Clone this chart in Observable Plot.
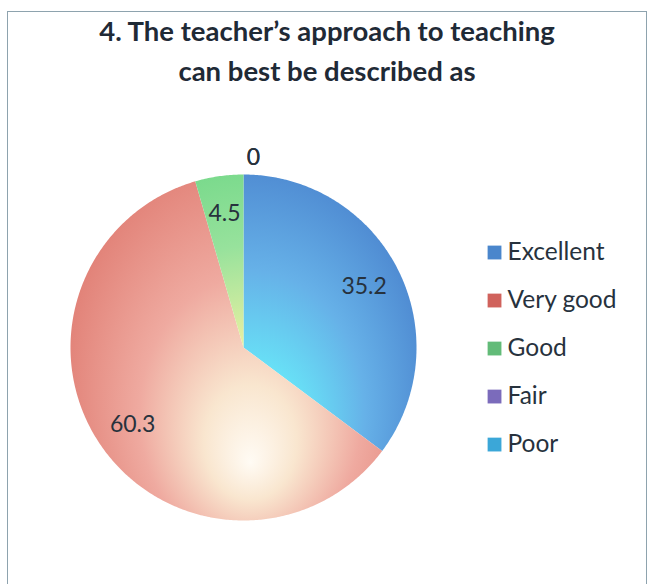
<!DOCTYPE html>
<html>
<head>
<meta charset="utf-8">
<script src="https://cdn.jsdelivr.net/npm/d3@7"></script>
<script src="https://cdn.jsdelivr.net/npm/@observablehq/plot@0.6"></script>
<style>
  html, body { margin: 0; padding: 0; background: #fff; width: 653px; height: 584px; overflow: hidden; }
  #frame { position: absolute; left: 7px; top: 11px; width: 640px; height: 600px; border: 1.5px solid #8ea3ae; box-sizing: border-box; }
  #title { position: absolute; left: 7px; width: 640px; top: 11px; text-align: center; font-family: Lato, "Open Sans", sans-serif; font-weight: 700; font-size: 27.5px; line-height: 40px; color: #1f2a36; }
  #chart { position: absolute; left: 0; top: 0; }
</style>
</head>
<body>
<div id="frame"></div>
<div id="chart"></div>
<div id="title">4. The teacher’s approach to teaching<br>can best be described as</div>
<script>
const categories = ["Excellent", "Very good", "Good", "Fair", "Poor"];
const values = [35.2, 60.3, 4.5, 0, 0];
const legendColors = ["#4a86cc", "#d0625c", "#62bb78", "#7b6bbb", "#3ba7d8"];
const gradientStops = [
  [["0", "#b4fbff"], ["0.3", "#68e3f7"], ["0.62", "#66b1e8"], ["1", "#4c86cf"]],
  [["0", "#fffbf4"], ["0.25", "#f9e6cf"], ["0.6", "#efaaa0"], ["1", "#e28379"]],
  [["0", "#fbf8b4"], ["0.35", "#f0f1a2"], ["0.7", "#97e29c"], ["1", "#74d889"]],
  [["0", "#e0dcf5"], ["1", "#8064a2"]],
  [["0", "#d6f3ff"], ["1", "#4bacc6"]]
];

const data = categories.map((c, i) => ({category: c, value: values[i], index: i}));
const arcs = d3.pie().sort(null).value(d => d.value)(data);

// polygon outline of each slice in unit-circle coordinates (angle clockwise from 12 o'clock)
const slices = arcs.filter(a => a.endAngle > a.startAngle).map(a => {
  const n = Math.max(2, Math.ceil((a.endAngle - a.startAngle) / 0.01));
  const pts = [{x: 0, y: 0}];
  for (let k = 0; k <= n; ++k) {
    const t = a.startAngle + (a.endAngle - a.startAngle) * k / n;
    pts.push({x: Math.sin(t), y: Math.cos(t)});
  }
  return {index: a.data.index, pts};
});

const labels = arcs.map(a => {
  const mid = (a.startAngle + a.endAngle) / 2;
  const rr = a.data.value > 0 ? 0.78 : 1.1;
  return {x: rr * Math.sin(mid), y: rr * Math.cos(mid), text: String(a.data.value), zero: a.data.value === 0};
});

const legend = data.map((d, i) => ({x: 1.451, y: 0.549 - i * 0.2775, category: d.category, color: legendColors[i]}));

const plot = Plot.plot({
  width: 653,
  height: 584,
  marginLeft: 70,
  marginRight: 237,
  marginTop: 174,
  marginBottom: 64,
  x: {domain: [-1, 1], axis: null},
  y: {domain: [-1, 1], axis: null},
  style: {background: "transparent", overflow: "visible"},
  marks: [
    ...slices.map(s => Plot.line(s.pts, {x: "x", y: "y", fill: `url(#slice-grad-${s.index})`, stroke: "none", curve: "linear"})),
    Plot.text(labels, {x: "x", y: "y", text: "text", fontSize: 23, fill: "#27323d", fontFamily: "Lato, 'Open Sans', sans-serif"}),
    Plot.dot(legend, {x: "x", y: "y", symbol: "square", r: 7.8, fill: "color", stroke: "none"}),
    Plot.text(legend, {x: "x", y: "y", text: "category", dx: 13, textAnchor: "start", fontSize: 24.5, fill: "#27323d", fontFamily: "Lato, 'Open Sans', sans-serif"})
  ]
});

// radial gradients, positioned through the plot's own scales
const sx = plot.scale("x"), sy = plot.scale("y");
const cx = sx.apply(0.04), cy = sy.apply(-0.2);
const rx = sx.apply(1.07) - sx.apply(0), ry = sy.apply(-1.33) - sy.apply(0);
const svg = d3.select(plot);
const defs = svg.insert("defs", ":first-child");
gradientStops.forEach((stops, i) => {
  const g = defs.append("radialGradient")
    .attr("id", `slice-grad-${i}`)
    .attr("gradientUnits", "userSpaceOnUse")
    .attr("cx", 0).attr("cy", 0).attr("r", 1)
    .attr("fx", 0).attr("fy", 0.35)
    .attr("gradientTransform", `translate(${cx},${cy}) scale(${rx},${ry})`);
  stops.forEach(([o, c]) => g.append("stop").attr("offset", o).attr("stop-color", c));
});
// zero-value labels share a position; nudge slightly right like the original
svg.selectAll("text").filter(function() { return this.textContent === "0"; }).attr("dx", 10);

document.getElementById("chart").appendChild(plot);
</script>
</body>
</html>
